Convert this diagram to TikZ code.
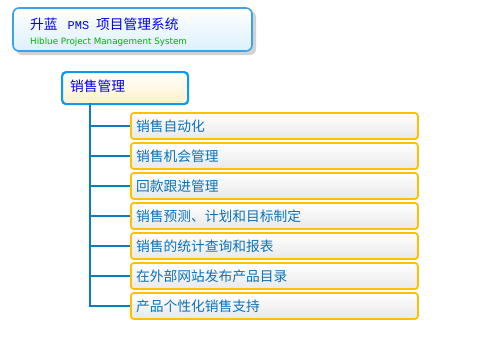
\documentclass[tikz,border=0pt]{standalone}
\usepackage{fontspec}
\setmainfont{DejaVu Sans}
\newfontfamily\cjk{Noto Sans CJK SC}
\newfontfamily\pmsfont{Liberation Mono}
\begin{document}
\begin{tikzpicture}[x=1bp,y=-1bp,
  titlebox/.style={draw=titleborder,line width=1.6bp,rounded corners=6bp,top color=white,bottom color=titlefill},
  mainbox/.style={draw=mainborder,line width=2.2bp,rounded corners=4bp,top color=white,bottom color=mainfill},
  itembox/.style={draw=itemborder,line width=1.8bp,rounded corners=3bp,top color=white,bottom color=itemfill},
  itemtext/.style={font=\cjk\fontsize{13.8}{15}\selectfont,text=itemtext,anchor=west,inner sep=0},
  branch/.style={draw=linecol,line width=2bp}]
\definecolor{titleborder}{HTML}{3BA3E6}
\definecolor{titlefill}{HTML}{DDF0FC}
\definecolor{mainborder}{HTML}{0A9AF5}
\definecolor{mainfill}{HTML}{FFF0C8}
\definecolor{itemborder}{HTML}{FFC000}
\definecolor{itemfill}{HTML}{E8E8E8}
\definecolor{itemtext}{HTML}{0A72BC}
\definecolor{linecol}{HTML}{0A7CC4}
\definecolor{titleblue}{HTML}{0000F0}
\definecolor{titlegreen}{HTML}{00B000}
\useasboundingbox (0,0) rectangle (500,337);
\fill[white] (0,0) rectangle (500,337);
% title
\fill[gray!35,rounded corners=6bp] (16,11) rectangle (256,55);
\path[titlebox] (13,8) rectangle (252,51);
\node[anchor=west,inner sep=0,text=titleblue,font=\cjk\fontsize{13.8}{15}\selectfont] (t1) at (30,24) {升蓝\hspace{10bp}{\pmsfont\fontsize{12}{13}\selectfont PMS}\hspace{7bp}项目管理系统};
\node[anchor=west,inner sep=0,text=titlegreen,font=\fontsize{8.8}{10}\selectfont] (t2) at (30,42) {Hiblue Project Management System};
% main
\node[mainbox,minimum width=126bp,minimum height=32bp,anchor=north west,inner sep=0] (m) at (61,71) {};
\node[anchor=west,inner sep=0,text=titleblue,font=\cjk\fontsize{13.8}{15}\selectfont] (mt) at (70,86) {销售管理};
% items
\foreach \i/\t in {0/销售自动化,1/销售机会管理,2/回款跟进管理,3/销售预测、计划和目标制定,4/销售的统计查询和报表,5/在外部网站发布产品目录,6/产品个性化销售支持}{
  \node[itembox,minimum width=287bp,minimum height=26bp,anchor=west,inner sep=0] (b\i) at (130,{126+30*\i}) {};
  \node[itemtext] (l\i) at (136,{126+30*\i}) {\t};
}
\coordinate (top) at (90,103);
\draw[branch] (top) |- (b6.west);
\foreach \i in {0,...,5}{ \draw[branch] (b\i.west) -- (b\i.west -| top); }
\end{tikzpicture}
\end{document}
